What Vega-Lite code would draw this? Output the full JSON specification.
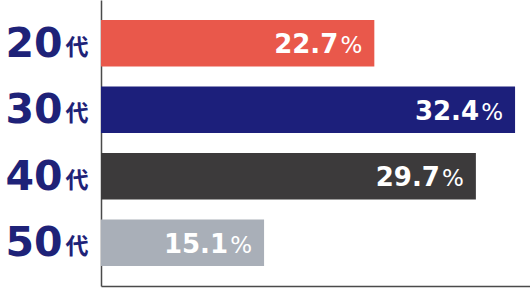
{
  "$schema": "https://vega.github.io/schema/vega-lite/v6.json",
  "width": 429,
  "height": 286,
  "autosize": {"type": "none"},
  "padding": {"left": 101, "top": 0, "right": 0, "bottom": 3},
  "background": "white",
  "config": {"view": {"stroke": null}, "axis": {"grid": false}},
  "data": {"values": [
    {"age": "20代", "value": 22.7},
    {"age": "30代", "value": 32.4},
    {"age": "40代", "value": 29.7},
    {"age": "50代", "value": 15.1}
  ]},
  "encoding": {
    "x": {"field": "value", "type": "quantitative",
      "scale": {"domain": [3.86, 33.43], "zero": false, "nice": false},
      "axis": {"title": null, "labels": false, "ticks": false, "domain": true,
        "domainColor": "#4a4a4a", "domainWidth": 1.5, "grid": false}}
  },
  "layer": [
    {
      "mark": {"type": "bar", "clip": true},
      "encoding": {
        "y": {"field": "age", "type": "nominal", "sort": null,
          "scale": {"paddingInner": 0.3, "paddingOuter": 0.3},
          "axis": {"orient": "left", "title": null, "ticks": false, "tickSize": 0, "domain": true,
            "domainColor": "#4a4a4a", "domainWidth": 1.5,
            "labelExpr": "replace(datum.label, '代', '')",
            "labelFont": "DejaVu Sans", "labelFontWeight": "bold", "labelFontSize": 41,
            "labelColor": "#1e2278", "labelPadding": 39, "labelBaseline": "alphabetic",
            "labelOffset": 13.5, "labelAlign": "right", "labelOverlap": false}},
        "color": {"field": "age", "type": "nominal", "sort": null,
          "scale": {"domain": ["20代", "30代", "40代", "50代"],
            "range": ["#e9584b", "#1c1f7b", "#3c3a3b", "#a9afb8"]},
          "legend": null}
      }
    },
    {
      "mark": {"type": "text", "align": "right", "baseline": "alphabetic", "dx": -36, "dy": 10,
        "font": "DejaVu Sans", "fontWeight": "bold", "fontSize": 26, "color": "white"},
      "encoding": {
        "y": {"field": "age", "type": "nominal", "sort": null, "axis": null},
        "text": {"field": "value", "type": "quantitative", "format": ".1f"}
      }
    },
    {
      "mark": {"type": "text", "align": "right", "baseline": "alphabetic", "dx": -12, "dy": 10,
        "font": "DejaVu Sans", "fontSize": 23, "color": "white", "text": "%"},
      "encoding": {
        "y": {"field": "age", "type": "nominal", "sort": null,
          "axis": {"orient": "left", "title": null, "ticks": false, "tickSize": 0, "domain": false,
            "labelExpr": "'代'", "labelFont": "Noto Sans CJK JP", "labelFontWeight": "bold",
            "labelFontSize": 23, "labelColor": "#1e2278", "labelPadding": 13,
            "labelBaseline": "alphabetic", "labelOffset": 11.5, "labelAlign": "right", "labelOverlap": false}}
      }
    }
  ],
  "resolve": {"axis": {"y": "independent"}}
}
